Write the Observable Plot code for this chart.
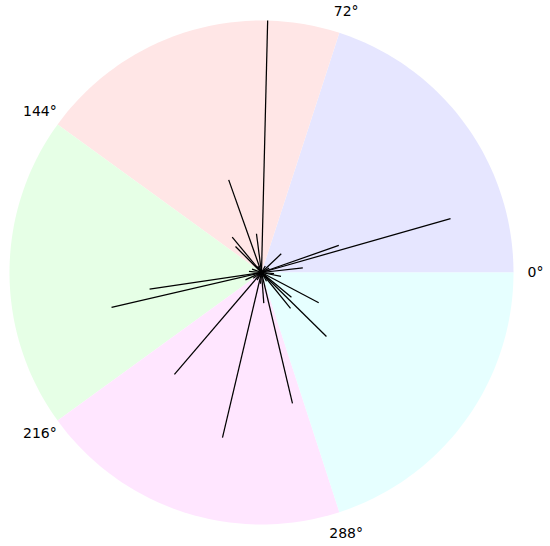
<!DOCTYPE html>
<html>
<head>
<meta charset="utf-8">
<script src="https://cdn.jsdelivr.net/npm/d3@7"></script>
<script src="https://cdn.jsdelivr.net/npm/@observablehq/plot@0.6"></script>
<style>
  html, body { margin: 0; padding: 0; background: #fff; }
</style>
</head>
<body>
<div id="chart"></div>
<script>
// Sector boundaries (degrees) and fill colours
const sectorStarts = [0, 72, 144, 216, 288];
const sectorWidth = 72;
const sectorColors = ["#e6e6ff", "#ffe6e6", "#e6ffe6", "#ffe6ff", "#e6ffff"];
const rMax = 1.0;

// Angular tick labels
const tickAngles = [0, 72, 144, 216, 288];
const tickLabels = ["0°", "72°", "144°", "216°", "288°"];

// Radiating lines: angle (degrees) and length (fraction of rMax)
const lineTheta = [88.6, 109.5, 15.9, 19.3, 6.5, 43.5, 97.4, 129.7, 135, 188.5, 193.1,
                   229.5, 256.7, 283.3, 274.3, 315.4, 332.1, 309, 320.5, 348.5, 204.5,
                   30, 60, 160, 175, 240, 265, 300, 355, 120, 215];
const lineR = [1.00, 0.39, 0.78, 0.325, 0.165, 0.108, 0.155, 0.182, 0.146, 0.449, 0.611,
               0.532, 0.673, 0.534, 0.122, 0.362, 0.257, 0.183, 0.154, 0.079, 0.07,
               0.035, 0.03, 0.04, 0.05, 0.035, 0.045, 0.04, 0.05, 0.03, 0.04];

const rad = d => d * Math.PI / 180;

// Build sector polygons
const sectorPts = [];
sectorStarts.forEach((s, i) => {
  sectorPts.push({k: i, x: 0, y: 0});
  const n = 60;
  for (let j = 0; j <= n; j++) {
    const a = rad(s + sectorWidth * j / n);
    sectorPts.push({k: i, x: rMax * Math.cos(a), y: rMax * Math.sin(a)});
  }
  sectorPts.push({k: i, x: 0, y: 0});
});

const lines = lineTheta.map((t, i) => ({
  x2: lineR[i] * Math.cos(rad(t)),
  y2: lineR[i] * Math.sin(rad(t))
}));

const labelR = 1.087;
const labels = tickAngles.map((t, i) => ({
  x: labelR * Math.cos(rad(t)),
  y: labelR * Math.sin(rad(t)),
  text: tickLabels[i]
}));

const chart = Plot.plot({
  width: 550,
  height: 546,
  marginLeft: 9,
  marginRight: 37,
  marginTop: 20,
  marginBottom: 22,
  x: {domain: [-rMax, rMax], axis: null},
  y: {domain: [-rMax, rMax], axis: null},
  style: {fontFamily: "DejaVu Sans", background: "#fff"},
  marks: [
    Plot.line(sectorPts, {x: "x", y: "y", z: "k", fill: d => sectorColors[d.k], stroke: "none"}),
    Plot.link(lines, {x1: () => 0, y1: () => 0, x2: "x2", y2: "y2", stroke: "black", strokeWidth: 1.25}),
    Plot.text(labels, {x: "x", y: "y", text: "text", fontSize: 14, fill: "#000", textAnchor: "middle"})
  ]
});
chart.style.overflow = "visible";
document.getElementById("chart").appendChild(chart);
</script>
</body>
</html>
